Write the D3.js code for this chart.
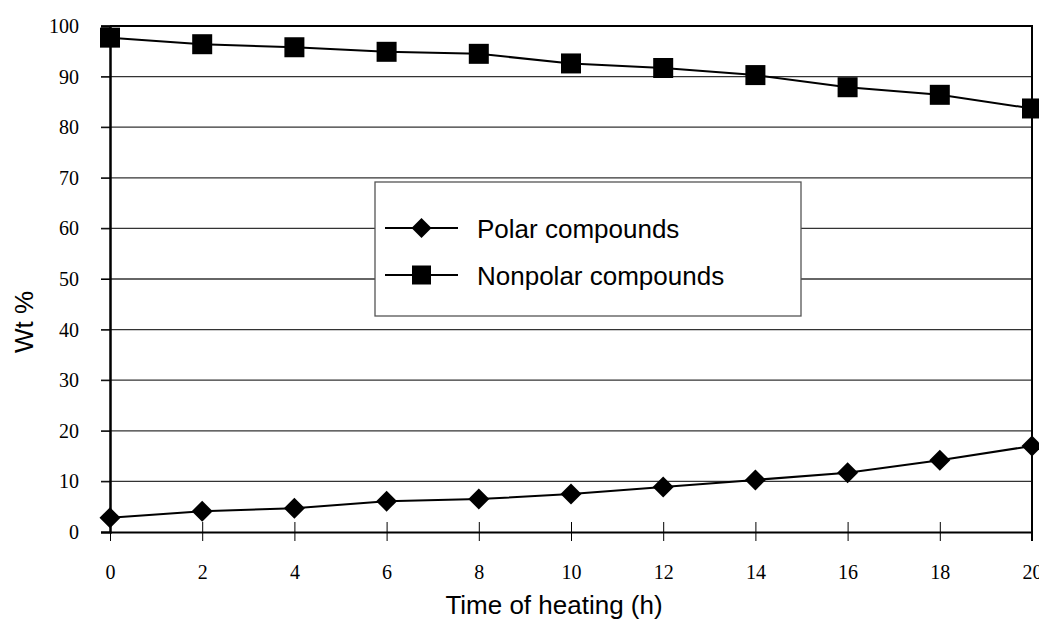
<!DOCTYPE html>
<html><head><meta charset="utf-8">
<script src="https://cdn.jsdelivr.net/npm/d3@7"></script>
<style>body{margin:0;background:#fff;} svg{display:block;}</style>
</head><body>
<svg id="c" width="1039" height="629"></svg>
<script>
const hours = [0,2,4,6,8,10,12,14,16,18,20];
const polar = [2.8,4.1,4.7,6.1,6.5,7.5,8.9,10.3,11.7,14.2,17.0];
const nonpolar = [97.7,96.4,95.8,94.9,94.5,92.6,91.7,90.3,87.9,86.4,83.7];
const yTicks = [0,10,20,30,40,50,60,70,80,90,100];
const xTicks = [0,2,4,6,8,10,12,14,16,18,20];
const seriesNames = ["Polar compounds","Nonpolar compounds"];

const svg = d3.select("#c");
const x = d3.scaleLinear().domain([0,20]).range([110,1032]);
const y = d3.scaleLinear().domain([0,100]).range([532,26]);

// gridlines
svg.append("g").selectAll("line").data(yTicks.filter(d=>d>0&&d<100)).join("line")
  .attr("x1",101).attr("x2",x(20)).attr("y1",d=>y(d)).attr("y2",d=>y(d))
  .attr("stroke","#333").attr("stroke-width",1.3);
// top border
svg.append("line").attr("x1",x(0)).attr("x2",x(20)+1).attr("y1",y(100)).attr("y2",y(100))
  .attr("stroke","#000").attr("stroke-width",2);
svg.append("line").attr("x1",101).attr("x2",x(0)).attr("y1",y(100)).attr("y2",y(100))
  .attr("stroke","#000").attr("stroke-width",1);
// right border
svg.append("line").attr("x1",x(20)).attr("x2",x(20)).attr("y1",y(100)).attr("y2",541)
  .attr("stroke","#000").attr("stroke-width",2);

// y axis
const ya = svg.append("g").attr("transform",`translate(${x(0)},0)`)
  .call(d3.axisLeft(y).tickValues(yTicks).tickSize(9).tickPadding(22).tickFormat(d3.format("d")));
ya.select(".domain").attr("stroke","#000").attr("stroke-width",2.5);
ya.selectAll(".tick line").attr("stroke","#000").attr("stroke-width",1);
ya.selectAll("text").attr("font-family","'Liberation Serif','Times New Roman',serif").attr("font-size",20).attr("fill","#000");

// x axis
const xa = svg.append("g").attr("transform",`translate(0,${y(0)})`)
  .call(d3.axisBottom(x).tickValues(xTicks).tickSizeInner(9).tickSizeOuter(0).tickPadding(24));
xa.select(".domain").attr("stroke","#000").attr("stroke-width",2);
xa.selectAll(".tick line").attr("stroke","#000").attr("stroke-width",1).attr("y1",-10);
xa.selectAll("text").attr("font-family","'Liberation Serif','Times New Roman',serif").attr("font-size",20).attr("fill","#000");

// lines
const line = d3.line().x((d,i)=>x(hours[i])).y(d=>y(d));
svg.append("path").datum(polar).attr("d",line).attr("fill","none").attr("stroke","#000").attr("stroke-width",2);
svg.append("path").datum(nonpolar).attr("d",line).attr("fill","none").attr("stroke","#000").attr("stroke-width",2);

const diamond = s => `M0,${-s}L${s},0L0,${s}L${-s},0Z`;
svg.append("g").selectAll("path").data(polar).join("path")
  .attr("transform",(d,i)=>`translate(${x(hours[i])},${y(d)})`)
  .attr("d",diamond(10.5)).attr("fill","#000");
svg.append("g").selectAll("rect").data(nonpolar).join("rect")
  .attr("x",(d,i)=>x(hours[i])-10).attr("y",d=>y(d)-10).attr("width",20).attr("height",20).attr("fill","#000");

// legend
const lg = svg.append("g");
lg.append("rect").attr("x",375).attr("y",182).attr("width",426).attr("height",134)
  .attr("fill","#fff").attr("stroke","#555").attr("stroke-width",1.3);
const ly = [228,275];
seriesNames.forEach((n,i)=>{
  lg.append("line").attr("x1",385).attr("x2",458).attr("y1",ly[i]).attr("y2",ly[i]).attr("stroke","#000").attr("stroke-width",2);
  if(i===0) lg.append("path").attr("transform",`translate(421.5,${ly[i]})`).attr("d",diamond(10)).attr("fill","#000");
  else lg.append("rect").attr("x",412).attr("y",ly[i]-9.5).attr("width",19).attr("height",19).attr("fill","#000");
  lg.append("text").attr("x",477).attr("y",ly[i]+9.5).text(n)
    .attr("font-family","'Liberation Sans',Arial,sans-serif").attr("font-size",26).attr("fill","#000");
});

// axis titles
svg.append("text").attr("x",554).attr("y",614).attr("text-anchor","middle").text("Time of heating (h)")
  .attr("font-family","'Liberation Sans',Arial,sans-serif").attr("font-size",26).attr("fill","#000");
svg.append("text").attr("transform","translate(33,322) rotate(-90)").attr("text-anchor","middle").text("Wt %")
  .attr("font-family","'Liberation Sans',Arial,sans-serif").attr("font-size",26).attr("fill","#000");
</script>
</body></html>
